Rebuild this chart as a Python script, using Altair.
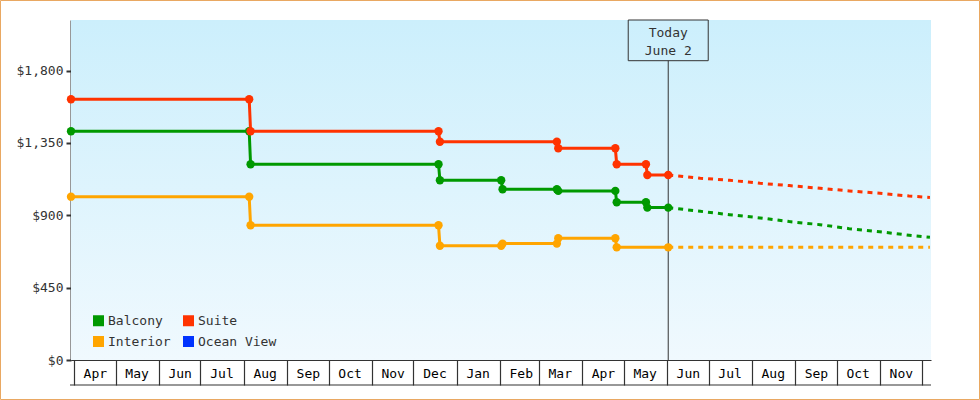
import altair as alt
import pandas as pd

# ---------------- data ----------------
# order chosen so the 2-column legend reads: Balcony / Suite on row 1, Interior / Ocean View on row 2
series_names = ["Balcony", "Interior", "Suite", "Ocean View"]
series_colors = ["#009900", "#ffa500", "#ff3300", "#0033ff"]

suite_dates = ["2014-03-30", "2014-08-05", "2014-08-06", "2014-12-19", "2014-12-20",
               "2015-03-14", "2015-03-15", "2015-04-25", "2015-04-26", "2015-05-17",
               "2015-05-18", "2015-06-02"]
suite_prices = [1622, 1622, 1423, 1423, 1358, 1358, 1317, 1317, 1218, 1218, 1151, 1151]

balcony_dates = ["2014-03-30", "2014-08-05", "2014-08-06", "2014-12-19", "2014-12-20",
                 "2015-02-02", "2015-02-03", "2015-03-14", "2015-03-15", "2015-04-25",
                 "2015-04-26", "2015-05-17", "2015-05-18", "2015-06-02"]
balcony_prices = [1423, 1423, 1218, 1218, 1118, 1118, 1062, 1062, 1052, 1052, 981, 981, 948, 948]

interior_dates = ["2014-03-30", "2014-08-05", "2014-08-06", "2014-12-19", "2014-12-20",
                  "2015-02-02", "2015-02-03", "2015-03-14", "2015-03-15", "2015-04-25",
                  "2015-04-26", "2015-06-02"]
interior_prices = [1016, 1016, 838, 838, 711, 711, 724, 724, 757, 757, 701, 701]

proj_dates = ["2015-06-02", "2015-06-25", "2015-07-16", "2015-08-07", "2015-08-28",
              "2015-09-19", "2015-10-10", "2015-11-01", "2015-11-22", "2015-12-07"]
suite_proj = [1151, 1131, 1118, 1099, 1085, 1068, 1052, 1037, 1020, 1011]
balcony_proj = [948, 925, 904, 884, 861, 842, 817, 798, 776, 763]
interior_proj_dates = ["2015-06-02", "2015-12-07"]
interior_proj = [701, 701]

y_ticks = [0, 450, 900, 1350, 1800]
today_label = "Today\nJune 2"
today_date = "2015-06-02"

# ---------------- tables ----------------
def long(name, dates, prices):
    return pd.DataFrame({"series": name, "date": dates, "price": prices})

actual = pd.concat([long("Balcony", balcony_dates, balcony_prices),
                    long("Suite", suite_dates, suite_prices),
                    long("Interior", interior_dates, interior_prices)])
proj = pd.concat([long("Balcony", proj_dates, balcony_proj),
                  long("Suite", proj_dates, suite_proj),
                  long("Interior", interior_proj_dates, interior_proj)])
legend_df = pd.DataFrame({"series": series_names})
one = pd.DataFrame({"k": [0]})
today_df = pd.DataFrame({"date": [today_date], "label": [today_label]})

FONT = "DejaVu Sans Mono"
INK = "#333333"

month_ticks = [alt.DateTime(year=2014 + (3 + i) // 12, month=(3 + i) % 12 + 1, date=1)
               for i in range(21)]

x_scale = alt.Scale(domain=[alt.DateTime(year=2014, month=3, date=30),
                            alt.DateTime(year=2015, month=12, date=7, hours=18)])
y_scale = alt.Scale(domain=[0, 2115], nice=False, zero=True)
color_scale = alt.Scale(domain=series_names, range=series_colors)

legend = alt.Legend(title=None, orient="none", legendX=21, legendY=294,
                    columns=2, columnPadding=11, rowPadding=7,
                    symbolType="square", symbolSize=121, symbolStrokeWidth=0,
                    labelFont=FONT, labelFontSize=13, labelColor=INK,
                    labelOffset=3, padding=0)

x_axis = alt.Axis(values=month_ticks, title=None, grid=False,
                  domainColor=INK, domainWidth=1.2, tickColor=INK, tickWidth=1.2,
                  tickSize=25, labelPadding=-18, labelOffset=21, labelAlign="center",
                  labelBaseline="top", labelFont=FONT, labelFontSize=13, labelColor="#000000",
                  labelOverlap=False, labelFlush=False,
                  labelExpr="(year(datum.value)==2015 && month(datum.value)==11) ? '' : timeFormat(datum.value, '%b')")
y_axis = alt.Axis(values=y_ticks, format="$,.0f", title=None, grid=False,
                  domainColor=INK, domainWidth=2, tickColor=INK, tickWidth=2, tickSize=5,
                  labelPadding=3, labelFont=FONT, labelFontSize=13, labelColor=INK)

bg = alt.Chart(one).mark_rect(
    color=alt.LinearGradient(gradient="linear", x1=0, x2=0, y1=0, y2=1,
                             stops=[alt.GradientStop(color="#cceffc", offset=0),
                                    alt.GradientStop(color="#f0f9fe", offset=1)])
).encode(x=alt.value(0), x2=alt.value(860), y=alt.value(0), y2=alt.value(340))

border = alt.Chart(one).mark_rect(fill=None, fillOpacity=0, stroke="#e9a862", strokeWidth=1).encode(
    x=alt.value(-70.5), x2=alt.value(908.5), y=alt.value(-19.5), y2=alt.value(379.5))

bottom_line = alt.Chart(one).mark_rule(color=INK, strokeWidth=1.2).encode(
    x=alt.value(-1), x2=alt.value(860), y=alt.value(365))

# legend carrier: filled squares drawn at zero size outside view
legend_layer = alt.Chart(legend_df).mark_square(filled=True, size=0, opacity=1).encode(
    x=alt.value(-500), y=alt.value(-500),
    color=alt.Color("series:N", scale=color_scale, legend=legend),
)

lines = alt.Chart(actual).mark_line(strokeWidth=3).encode(
    x=alt.X("date:T", scale=x_scale, axis=x_axis),
    y=alt.Y("price:Q", scale=y_scale, axis=y_axis),
    color=alt.Color("series:N", scale=color_scale, legend=legend),
    detail="series:N",
)

proj_lines = alt.Chart(proj).mark_line(strokeWidth=3, strokeDash=[5, 5]).encode(
    x=alt.X("date:T", scale=x_scale),
    y=alt.Y("price:Q", scale=y_scale),
    color=alt.Color("series:N", scale=color_scale, legend=legend),
    detail="series:N",
)

points = alt.Chart(actual).mark_point(filled=True, shape="circle", size=70, opacity=1).encode(
    x=alt.X("date:T", scale=x_scale),
    y=alt.Y("price:Q", scale=y_scale),
    color=alt.Color("series:N", scale=color_scale, legend=legend),
)

today_rule = alt.Chart(today_df).mark_rule(color=INK, strokeWidth=1).encode(
    x=alt.X("date:T", scale=x_scale), y=alt.value(40.7), y2=alt.value(340))

today_box = alt.Chart(today_df).mark_rect(fillOpacity=0, stroke=INK, strokeWidth=1,
                                          xOffset=-40, x2Offset=40).encode(
    x=alt.X("date:T", scale=x_scale), x2="date:T", y=alt.value(0), y2=alt.value(40.7))

today_text = alt.Chart(today_df).mark_text(font=FONT, fontSize=13, color=INK, lineBreak="\n",
                                           lineHeight=18, baseline="middle", align="center").encode(
    x=alt.X("date:T", scale=x_scale), y=alt.value(12.5), text="label:N")

chart = alt.layer(bg, border, bottom_line, today_rule, today_box, today_text,
                  legend_layer, lines, proj_lines, points).properties(
    width=860, height=340,
    autosize=alt.AutoSizeParams(type="none"),
    padding={"left": 71, "top": 20, "right": 49, "bottom": 40},
    background="white",
).configure_view(stroke=None).configure_legend(symbolType="square", symbolFillColor=None)

chart.save("out.html", embed_options={"renderer": "svg", "actions": False})
